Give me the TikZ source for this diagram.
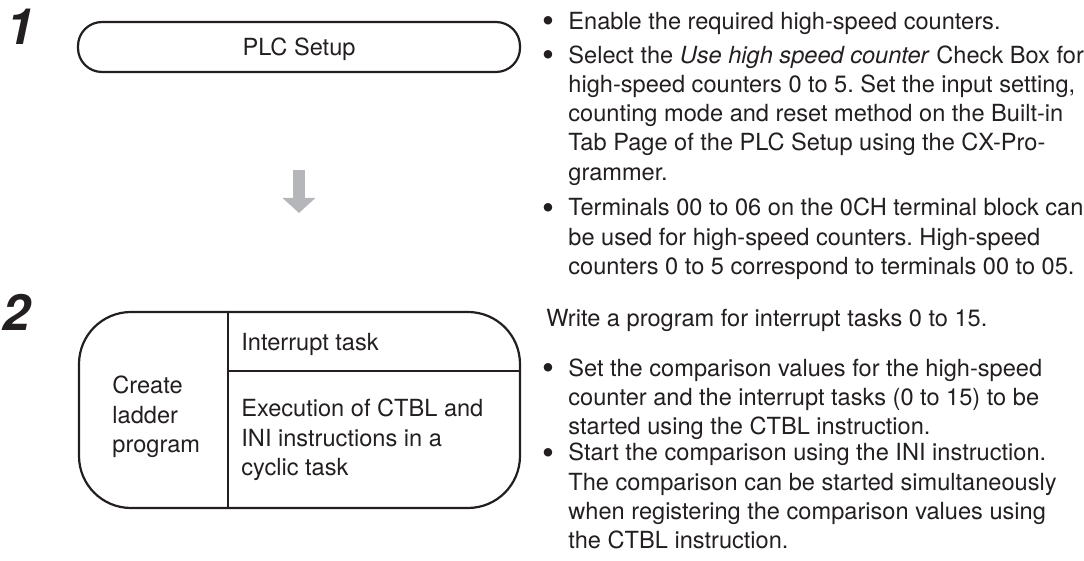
\documentclass[tikz,border=0pt]{standalone}
\usepackage{fontspec}
\setmainfont{TeX Gyre Heros}
\usepackage{xcolor}
\definecolor{arrowgray}{HTML}{B4B6B9}
\definecolor{inkblack}{HTML}{231F20}
\usepackage{tikz}
\usetikzlibrary{positioning, arrows.meta}
\frenchspacing

\begin{document}
\begin{tikzpicture}[x=0.5pt, y=-0.5pt, font=\fontsize{11.8pt}{14.6pt}\selectfont, inkblack]
    \tikzstyle{stepnum} = [anchor=base west, inner sep=0pt, font=\fontsize{25pt}{25pt}\selectfont\bfseries\itshape]
    \tikzstyle{flowbox} = [draw=inkblack, line width=1.1pt, inner sep=0pt]
    \tikzstyle{boxtext} = [anchor=base west, inner sep=0pt, align=left]
    \tikzstyle{itemtext} = [anchor=base west, inner sep=0pt, align=left]
    \tikzstyle{dotnode} = [anchor=center, inner sep=0pt, font=\fontsize{17pt}{17pt}\selectfont]
    \tikzstyle{divider} = [draw=inkblack, line width=0.7pt]
    \tikzstyle{flowarrow} = [arrowgray, line width=6pt, -{Triangle[width=16pt, length=7.5pt]}]

    \useasboundingbox (0,0) rectangle (1084,561);

    % step 1: PLC Setup
    \node [stepnum] (num1) at (6,45) {1};
    \node [flowbox, rounded corners=12pt, minimum width=221pt, minimum height=25pt, text depth=0pt] (plc) at (299,47) {PLC Setup};

    \coordinate (arrtop) at (299,170);
    \coordinate (arrtip) at (299,213);
    \draw [flowarrow] (arrtop) -- (arrtip);

    % step 2: ladder program (multi-line nodes sit on their last baseline)
    \node [stepnum] (num2) at (2,331) {2};
    \node [flowbox, rounded corners=26pt, minimum width=220.5pt, minimum height=98pt] (ladder) at (299.5,410) {};
    \coordinate (split) at (228,371);
    \draw [divider] (split |- ladder.north) -- (split |- ladder.south);
    \draw [divider] (split) -- (split -| ladder.east);
    \node [boxtext] (create) at (112,452.4) {Create\\ladder\\program};
    \node [boxtext] (inttask) at (241,351) {Interrupt task};
    \node [boxtext] (cyclic) at (241,475.4) {Execution of CTBL and\\INI instructions in a\\cyclic task};

    % notes on the right
    \node [itemtext] (item1) at (568,29.3) {Enable the required high-speed counters.};
    \node [itemtext] (item2) at (568,180.1) {Select the \textit{Use high speed counter} Check Box for\\high-speed counters 0 to 5. Set the input setting,\\counting mode and reset method on the Built-in\\Tab Page of the PLC Setup using the CX-Pro-\\grammer.};
    \node [itemtext] (item3) at (568,274.4) {Terminals 00 to 06 on the 0CH terminal block can\\be used for high-speed counters. High-speed\\counters 0 to 5 correspond to terminals 00 to 05.};
    \node [itemtext] (write) at (546,327) {Write a program for interrupt tasks 0 to 15.};
    \node [itemtext] (item4) at (568,435) {Set the comparison values for the high-speed\\counter and the interrupt tasks (0 to 15) to be\\started using the CTBL instruction.};
    \node [itemtext] (item5) at (568,548.5) {Start the comparison using the INI instruction.\\The comparison can be started simultaneously\\when registering the comparison values using\\the CTBL instruction.};

    \node [dotnode] (dot1) at (548,24.5) {\textbullet};
    \node [dotnode] (dot2) at (548,58.5) {\textbullet};
    \node [dotnode] (dot3) at (548,211.2) {\textbullet};
    \node [dotnode] (dot4) at (548,371.8) {\textbullet};
    \node [dotnode] (dot5) at (548,456.1) {\textbullet};
\end{tikzpicture}
\end{document}
